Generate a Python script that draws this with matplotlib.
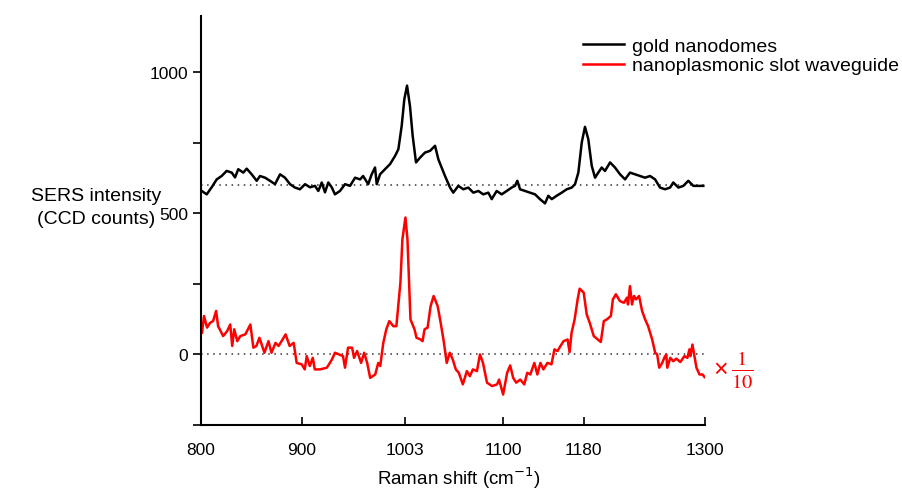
import matplotlib
matplotlib.use('Agg')
import matplotlib.pyplot as plt

plt.rcParams['font.family'] = ['Liberation Sans', 'DejaVu Sans']

# gold nanodomes spectrum (offset baseline at 600)
gold_shift = [
    800.7, 805.7, 810.6, 815.6, 820.5, 825.5, 830.5, 833.8, 837, 842, 845.4, 850.3, 855.3, 858.6,
    863.6, 868.5, 873.5, 878.5, 883.4, 888.4, 893.3, 898.3, 903.3, 908.2, 913.2, 916.5, 919.9, 923.1,
    926.4, 929.8, 933, 938, 943, 948, 953, 958, 961, 966, 969.5, 972.8, 974.5, 977.8, 982.7, 987.7,
    992.7, 996, 999.3, 1001.9, 1004.6, 1007.5, 1010.2, 1013.5, 1017.5, 1022.4, 1027.4, 1032.4, 1035.7,
    1042.3, 1047.3, 1050.5, 1055.5, 1060.5, 1065.4, 1070.4, 1075.4, 1080.3, 1085.3, 1088.7, 1093.6,
    1098.6, 1103.6, 1108.5, 1111.8, 1114.1, 1116.8, 1121.7, 1126.7, 1131.7, 1136.6, 1141.6, 1144.9,
    1148.3, 1153.2, 1158.2, 1163.2, 1168.1, 1171.4, 1174.7, 1178.1, 1181.3, 1184.6, 1188, 1191.3,
    1194.5, 1197.9, 1201.2, 1206.2, 1211.1, 1216.1, 1221.1, 1226, 1231, 1236, 1240.9, 1245.9, 1250.9,
    1255.8, 1260.8, 1265.8, 1269, 1274, 1279, 1283.9, 1288.9, 1293.8, 1298.8,
]
gold_counts = [
    579, 567, 592, 620, 632, 650, 644, 627, 656, 644, 658, 638, 615, 632,
    626, 615, 603, 638, 626, 603, 591, 585, 603, 592, 597, 579, 609, 574,
    609, 592, 567, 579, 603, 597, 626, 620, 632, 603, 638, 662, 603, 638, 656, 674,
    703, 727, 810, 904, 952, 880, 774, 680, 697, 715, 721, 739, 691,
    632, 591, 573, 597, 585, 591, 573, 579, 567, 573, 550, 579,
    567, 579, 591, 597, 615, 585, 579, 573, 567, 550, 535, 562,
    550, 562, 573, 585, 591, 603, 644, 751, 806, 762, 668, 626,
    644, 662, 650, 680, 662, 638, 620, 644, 638, 632, 626, 632, 620,
    591, 585, 591, 609, 591, 597, 615, 597, 597, 597,
]

# nanoplasmonic slot waveguide spectrum (scaled x 1/10)
slot_shift = [
    801, 803, 806, 809, 812, 815, 817, 822, 826, 829, 831, 833, 836, 839, 844, 849, 852, 855, 858,
    863, 867, 870, 874, 877, 880, 884, 888, 892, 895, 900, 903, 905, 908, 911, 913, 918, 925, 930,
    933, 937, 941, 943, 946, 950, 952, 955, 959, 962, 965, 968, 973, 976, 978, 981, 984, 987, 991,
    994, 998, 1000, 1003, 1005, 1008, 1012, 1014, 1018, 1020, 1022, 1025, 1028, 1031, 1035, 1038,
    1041, 1044, 1047, 1050, 1053, 1056, 1060, 1064, 1067, 1070, 1074, 1077, 1080, 1084, 1089, 1094,
    1096, 1100, 1104, 1107, 1110, 1113, 1117, 1121, 1124, 1127, 1131, 1134, 1137, 1140, 1144, 1148,
    1151, 1154, 1157, 1160, 1164, 1166, 1168, 1171, 1174, 1176, 1180, 1183, 1186, 1190, 1194, 1197,
    1200, 1203, 1207, 1209, 1212, 1216, 1220, 1223, 1224, 1226, 1228, 1230, 1232, 1235, 1238, 1241,
    1244, 1248, 1251, 1253, 1255, 1258, 1260, 1262, 1263, 1266, 1269, 1272, 1276, 1280, 1283, 1285,
    1286, 1288, 1290, 1292, 1295, 1298, 1300,
]
slot_counts = [
    77, 136, 95, 112, 118, 154, 100, 65, 83, 106, 30, 89, 47, 65, 71, 106, 24, 30, 59,
    6, 47, 6, 41, 30, 47, 71, 30, 41, -30, -35, -53, -6, -41, -12, -53, -53, -47, -18,
    6, 0, -6, -47, 24, 24, -12, 12, -30, 6, -30, -83, -71, -30, -41, 41, 89, 118, 100,
    100, 254, 408, 485, 408, 124, 89, 59, 53, 47, 89, 95, 171, 207, 171, 112,
    47, -30, 6, -18, -53, -65, -106, -59, -77, -53, -59, 0, -30, -100, -112, -106,
    -89, -142, -65, -39, -83, -100, -89, -106, -65, -71, -30, -71, -30, -53, -30, -35,
    18, 12, 30, 47, 53, 8, 77, 124, 195, 233, 219, 142, 112, 65, 53, 44,
    118, 124, 136, 195, 213, 189, 183, 201, 177, 242, 177, 207, 195, 207, 154, 124,
    100, 53, 6, 0, -47, -30, -12, 0, -47, -12, -24, -15, -27, -6, -12, 18,
    -6, 35, -6, -47, -71, -71, -80,
]

xticks = [800, 900, 1003, 1100, 1180, 1300]

fig = plt.figure(figsize=(9.03, 4.89), dpi=100)
ax = fig.add_axes([0.2226, 0.1288, 0.5576, 0.8372])

ax.plot([800, 1300], [600, 600], color='#333333', lw=1.1, ls=(0, (1, 3)))
ax.plot([800, 1300], [0, 0], color='#333333', lw=1.1, ls=(0, (1, 3)))
ax.plot(gold_shift, gold_counts, color='black', lw=1.8, label='gold nanodomes')
ax.plot(slot_shift, slot_counts, color='#ff0000', lw=1.8, label='nanoplasmonic slot waveguide')

ax.set_xlim(800, 1300)
ax.set_ylim(-250, 1200)
ax.set_xticks(xticks)
ax.set_yticks([0, 500, 1000])
ax.set_yticks([-250, 250, 750], minor=True)
ax.tick_params(axis='x', direction='in', length=6, width=1.2, labelsize=12.5, pad=12)
ax.tick_params(axis='y', which='both', direction='out', length=6, width=1.2, labelsize=12.5)
ax.spines['top'].set_visible(False)
ax.spines['right'].set_visible(False)
ax.spines['left'].set_linewidth(1.5)
ax.spines['bottom'].set_linewidth(1.5)

fig.text(459 / 903, 1 - 478 / 489, 'Raman shift (cm$^{-1}$)', fontsize=13.5, ha='center', va='center')
fig.text(96 / 903, 1 - 208 / 489, 'SERS intensity\n(CCD counts)', fontsize=14,
         ha='center', va='center', multialignment='center', linespacing=1.45)

# scale factor note next to the red trace
fig.text(721 / 903, 1 - 370 / 489, '\u00d7', color='#ff0000', fontsize=18,
         ha='center', va='center')
fig.text(742 / 903, 1 - 370 / 489, r'$\frac{1}{10}$', color='#ff0000', fontsize=21,
         math_fontfamily='stix', ha='center', va='center')

fig.legend(loc='upper left', bbox_to_anchor=(0.6456, 0.922), frameon=False, fontsize=14,
           handlelength=2.1, handletextpad=0.4, labelspacing=0.1, borderpad=0, borderaxespad=0)

fig.savefig('out.png', dpi=100)
